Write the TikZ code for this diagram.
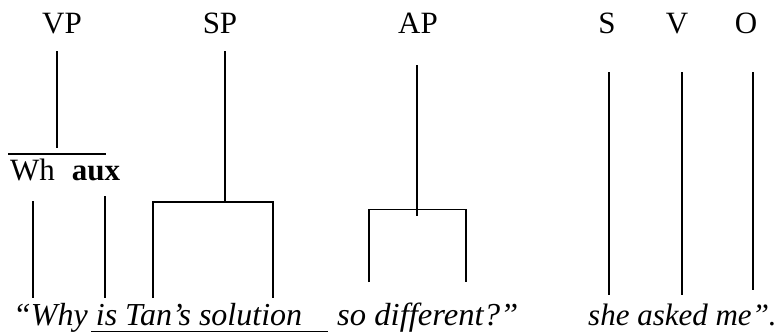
\documentclass[tikz,border=0pt]{standalone}
\usepackage{fontspec}
\setmainfont{Liberation Serif}
\begin{document}
\begin{tikzpicture}[x=1pt,y=1pt,
  lbl/.style={font=\fontsize{31}{37}\selectfont, inner sep=0pt, anchor=base},
  txt/.style={font=\fontsize{32}{38}\selectfont\itshape, inner sep=0pt, anchor=base west},
  ln/.style={line width=1.3pt}]
\useasboundingbox (0,0) rectangle (782,333);
% top labels
\node[lbl] (VP) at (62,299) {VP};
\node[lbl] (SP) at (220,299) {SP};
\node[lbl] (AP) at (418,299) {AP};
\node[lbl] (S) at (607,299) {S};
\node[lbl] (V) at (677,299) {V};
\node[lbl] (O) at (746,299) {O};
\node[lbl, anchor=base west] (wh) at (10,153) {Wh\hspace{17pt}\textbf{aux}};
% bottom text
\node[txt] (t1) at (13,8) {“Why is Tan’s solution};
\node[txt, xscale=1.02] (t2) at (337,8) {so different?”};
\node[txt, font=\fontsize{31}{37}\selectfont\itshape] (t3) at (588,8) {she asked me”.};
% coordinates
\coordinate (vpT) at (57,282); \coordinate (vpB) at (57,185);
\coordinate (olL) at (8,179); \coordinate (olR) at (106,179);
\coordinate (whT) at (33,132); \coordinate (whB) at (33,35);
\coordinate (auxT) at (105,137); \coordinate (auxB) at (105,35);
\coordinate (spT) at (225,282); \coordinate (spM) at (225,131);
\coordinate (spL) at (153,131); \coordinate (spR) at (273,131);
\coordinate (spLB) at (153,35); \coordinate (spRB) at (273,35);
\coordinate (apT) at (417,268); \coordinate (apB) at (417,117);
\coordinate (apL) at (369,123.5); \coordinate (apR) at (466,123.5);
\coordinate (apLB) at (369,51); \coordinate (apRB) at (466,51);
\coordinate (sT) at (609,261); \coordinate (sB) at (609,38);
\coordinate (vT) at (682,261); \coordinate (vB) at (682,38);
\coordinate (oT) at (753,261); \coordinate (oB) at (753,43);
\coordinate (ulL) at (91,1.2); \coordinate (ulR) at (328,1.2);
% lines
\draw[ln] (vpT) -- (vpB);
\draw[ln] (olL) -- (olR);
\draw[ln] (whT) -- (whB);
\draw[ln] (auxT) -- (auxB);
\draw[ln] (spT) -- (spM);
\draw[ln] (spLB) -- (spL) -- (spR) -- (spRB);
\draw[ln] (apT) -- (apB);
\draw[ln] (apLB) -- (apL) -- (apR) -- (apRB);
\draw[ln] (sT) -- (sB);
\draw[ln] (vT) -- (vB);
\draw[ln] (oT) -- (oB);
\draw[ln] (ulL) -- (ulR);
\end{tikzpicture}
\end{document}
